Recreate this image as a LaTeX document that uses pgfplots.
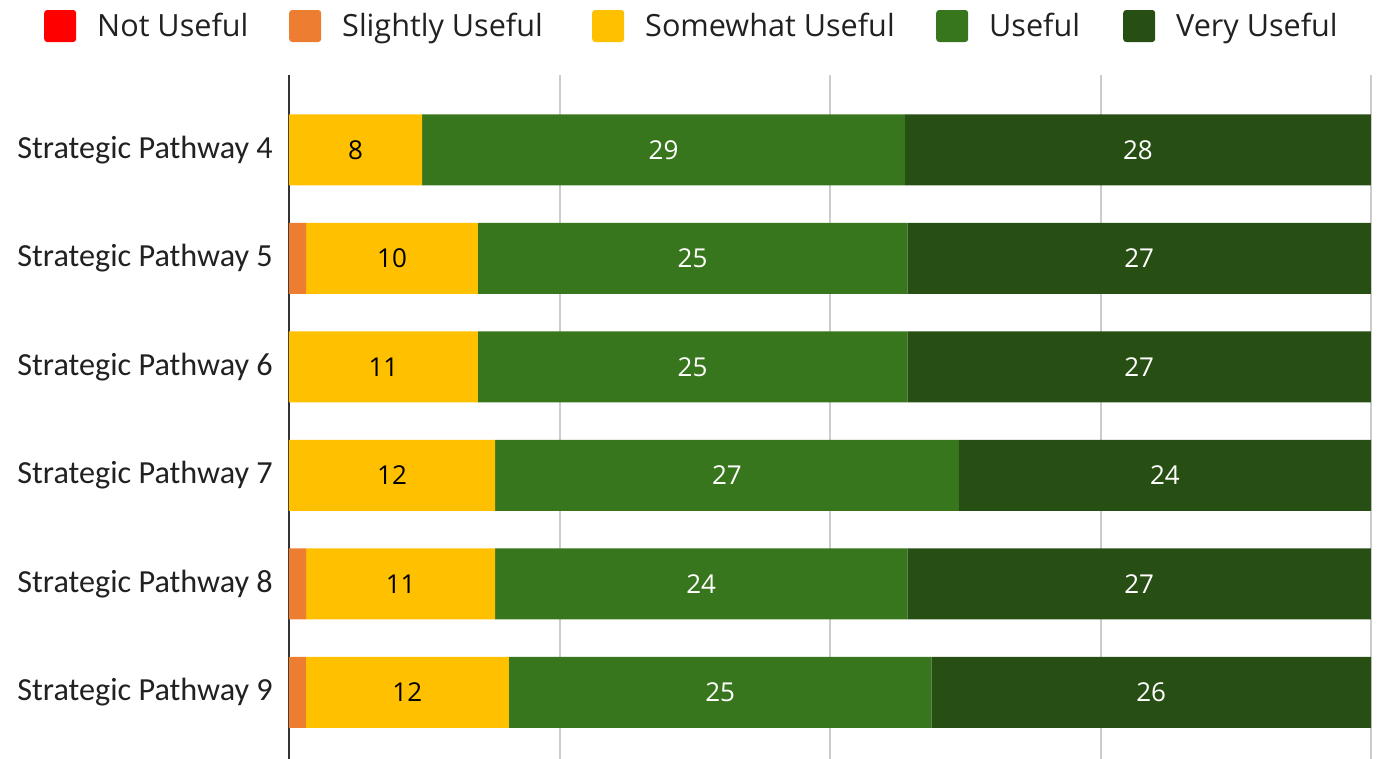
\documentclass[border=0pt]{standalone}
\usepackage{fontspec}
\setmainfont{Open Sans}
\newfontfamily\carlito{Carlito}
\usepackage{pgfplots}
\pgfplotsset{compat=1.18}
\usepackage{pgfplotstable}

\definecolor{cnu}{HTML}{FF0000}
\definecolor{csu}{HTML}{ED7D31}
\definecolor{csw}{HTML}{FFC000}
\definecolor{cu}{HTML}{38761D}
\definecolor{cvu}{HTML}{274E13}
\definecolor{textc}{HTML}{212121}
\definecolor{gridc}{HTML}{CCCCCC}
\definecolor{axisc}{HTML}{333333}

\pgfplotstableread{
cat nu su sw u vu
0 0 0 8 29 28
1 0 1 10 25 27
2 0 0 11 25 27
3 0 0 12 27 24
4 0 1 11 24 27
5 0 1 12 25 26
}\data

\def\tot{(\thisrow{nu}+\thisrow{su}+\thisrow{sw}+\thisrow{u}+\thisrow{vu})}

\pgfplotsset{
  lab/.style 2 args={
    nodes near coords={\pgfmathprintnumber[fixed,precision=0,assume math mode=true]{\pgfplotspointmeta}},
    point meta=\thisrow{#1},
    every node near coord/.append style={anchor=center,
      font=\fontsize{26}{30}\selectfont, text=#2, inner sep=0pt},
  }
}

\begin{document}
\begin{tikzpicture}
\path[use as bounding box] (0,0) rectangle (1381pt,-759pt);
\begin{axis}[
  at={(289pt,-75pt)}, anchor=north west,
  scale only axis, width=1082pt, height=684pt,
  xbar stacked, bar width=71pt,
  xmin=0, xmax=100, ymin=-0.691, ymax=5.613, y dir=reverse,
  xtick={25,50,75,100}, xticklabels={},
  xmajorgrids, grid style={draw=gridc, line width=2pt},
  major tick length=0pt,
  ytick={0,1,2,3,4,5},
  yticklabels={Strategic Pathway 4,Strategic Pathway 5,Strategic Pathway 6,Strategic Pathway 7,Strategic Pathway 8,Strategic Pathway 9},
  yticklabel style={font=\carlito\fontsize{32.2}{38}\selectfont, text=textc, inner sep=0pt, xshift=-16pt},
  axis line style={draw=none},
  clip=false,
  legend columns=-1,
  legend style={draw=none, fill=none, inner sep=0pt,
    at={(-0.22643,1.07164)}, anchor=west,
    font=\fontsize{30.6}{36}\selectfont, text=textc,
    nodes={inner sep=0pt},
    /tikz/every odd column/.append style={column sep=21pt},
    /tikz/every even column/.append style={column sep=43pt}},
  legend image code/.code={\fill[#1, draw=none, rounded corners=3pt] (0pt,-16pt) rectangle (32pt,16pt);},
]
\addplot[fill=cnu, draw=none] table[y=cat, x expr=\thisrow{nu}/\tot*100] {\data};
\addlegendentry{\makebox[149pt][l]{Not Useful}}
\addplot[fill=csu, draw=none] table[y=cat, x expr=\thisrow{su}/\tot*100] {\data};
\addlegendentry{\makebox[207pt][l]{Slightly Useful}}
\addplot[fill=csw, draw=none, lab={sw}{black}] table[y=cat, x expr=\thisrow{sw}/\tot*100] {\data};
\addlegendentry{\makebox[248pt][l]{Somewhat Useful}}
\addplot[fill=cu, draw=none, lab={u}{white}] table[y=cat, x expr=\thisrow{u}/\tot*100] {\data};
\addlegendentry{\makebox[91pt][l]{Useful}}
\addplot[fill=cvu, draw=none, lab={vu}{white}] table[y=cat, x expr=\thisrow{vu}/\tot*100] {\data};
\addlegendentry{\makebox[163pt][l]{Very Useful}}
\draw[color=axisc, line width=2.5pt] (rel axis cs:0,0) -- (rel axis cs:0,1);
\end{axis}
\end{tikzpicture}
\end{document}
